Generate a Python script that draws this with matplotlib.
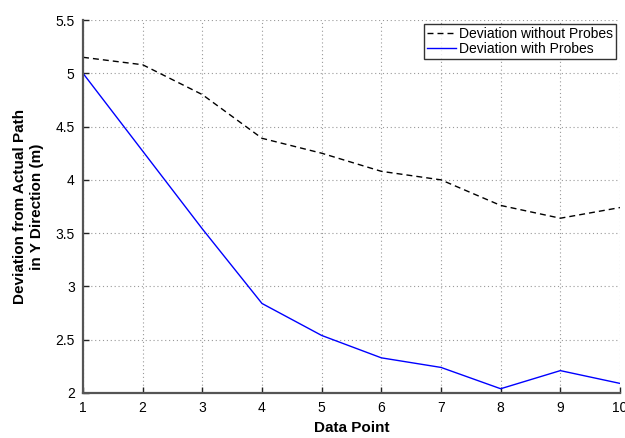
import matplotlib
matplotlib.use("Agg")
import matplotlib.pyplot as plt

plt.rcParams['font.family'] = ['Liberation Sans', 'DejaVu Sans']

points = [1, 2, 3, 4, 5, 6, 7, 8, 9, 10]
without_probes = [5.15, 5.08, 4.80, 4.39, 4.25, 4.08, 4.00, 3.76, 3.64, 3.74]
with_probes = [5.00, 4.27, 3.54, 2.84, 2.54, 2.33, 2.24, 2.04, 2.21, 2.09]
y_ticks = [2, 2.5, 3, 3.5, 4, 4.5, 5, 5.5]
y_tick_labels = ['2', '2.5', '3', '3.5', '4', '4.5', '5', '5.5']

fig = plt.figure(figsize=(6.25, 4.38), dpi=100)
ax = fig.add_axes([83 / 625, 1 - 393 / 438, (620 - 83) / 625, (393 - 20) / 438])

ax.plot(points, without_probes, 'k--', lw=1.0, dashes=(4.3, 2.9), label='Deviation without Probes')
ax.plot(points, with_probes, color='#0000ff', lw=1.0, label='Deviation with Probes')

ax.set_xlim(1, 10)
ax.set_ylim(2, 5.5)
ax.set_xticks(points)
ax.set_yticks(y_ticks)
ax.set_yticklabels(y_tick_labels)
ax.tick_params(direction='in', labelsize=10, length=4, width=1, pad=6, colors='#222222', labelcolor='black')
ax.grid(True, linestyle=(0, (1, 2.5)), color='#999999', lw=0.8)

for side in ('top', 'right'):
    ax.spines[side].set_visible(False)
for side in ('left', 'bottom'):
    ax.spines[side].set_color('#555555')
    ax.spines[side].set_linewidth(1.6)

ax.set_xlabel('Data Point', fontsize=11, fontweight='bold', labelpad=4)
ax.set_ylabel('Deviation from Actual Path\nin Y Direction (m)', fontsize=11,
              fontweight='bold', labelpad=8, linespacing=1.3)

leg = ax.legend(loc='upper right', fontsize=10, frameon=True, fancybox=False,
                edgecolor='black', borderpad=0.2, handlelength=2.1,
                handletextpad=0.2, labelspacing=0.1, borderaxespad=0.3)
leg.get_frame().set_linewidth(1.0)

fig.savefig('out.png', dpi=100)
